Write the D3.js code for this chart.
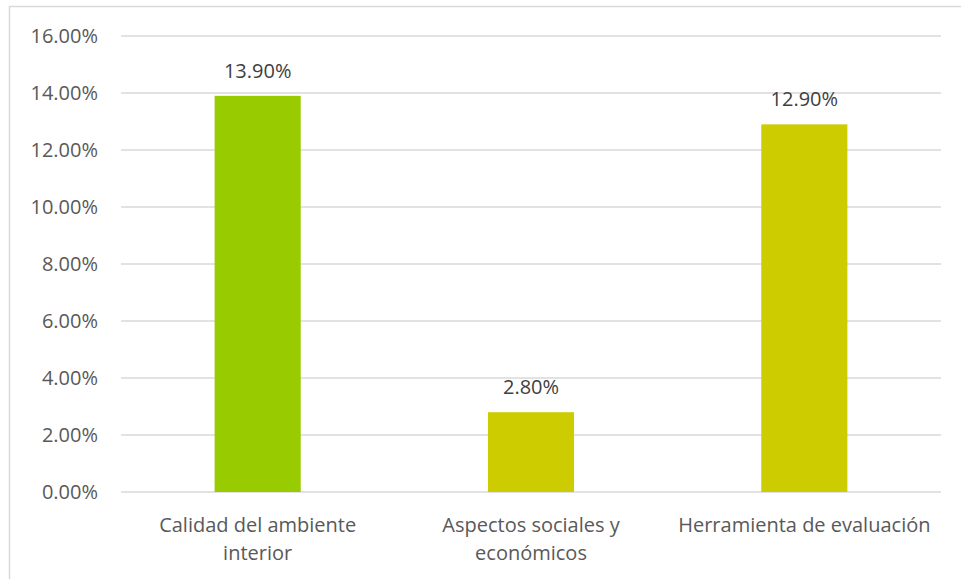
<!DOCTYPE html>
<html><head><meta charset="utf-8">
<script src="https://cdn.jsdelivr.net/npm/d3@7"></script>
<style>body{margin:0;background:#fff}svg{display:block}text{font-family:"Open Sans",sans-serif;}</style>
</head><body>
<script>
const categories = [["Calidad del ambiente","interior"],["Aspectos sociales y","económicos"],["Herramienta de evaluación"]];
const values = [13.9, 2.8, 12.9];
const colors = ["#99CC00","#CCCC00","#CCCC00"];
const ticks = [0,2,4,6,8,10,12,14,16];

const W=961,H=579;
const svg=d3.select("body").append("svg").attr("width",W).attr("height",H);
svg.append("rect").attr("x",9.5).attr("y",6.5).attr("width",W).attr("height",H).attr("fill","#fff").attr("stroke","#d9d9d9").attr("stroke-width",1.5);
const x=d3.scaleBand().domain(d3.range(3)).range([121,941]).paddingInner(0.685).paddingOuter(0.3425);
const y=d3.scaleLinear().domain([0,16]).range([492,36]);
svg.append("g").selectAll("line").data(ticks).join("line")
 .attr("x1",121).attr("x2",941).attr("y1",d=>y(d)).attr("y2",d=>y(d))
 .attr("stroke","#d9d9d9").attr("stroke-width",1.3);
svg.append("g").selectAll("text").data(ticks).join("text")
 .attr("x",98).attr("y",d=>y(d)+7).attr("text-anchor","end").attr("fill","#595959").attr("font-size",20)
 .text(d=>d.toFixed(2)+"%");
svg.append("g").selectAll("rect").data(values).join("rect")
 .attr("x",(d,i)=>x(i)).attr("width",x.bandwidth()).attr("y",d=>y(d)).attr("height",d=>y(0)-y(d)).attr("fill",(d,i)=>colors[i]);
svg.append("g").selectAll("text").data(values).join("text")
 .attr("x",(d,i)=>x(i)+x.bandwidth()/2).attr("y",d=>y(d)-18).attr("text-anchor","middle").attr("fill","#404040").attr("font-size",20)
 .text(d=>d.toFixed(2)+"%");
const cl=svg.append("g").selectAll("text").data(categories).join("text")
 .attr("text-anchor","middle").attr("fill","#595959").attr("font-size",20)
 .attr("transform",(d,i)=>`translate(${x(i)+x.bandwidth()/2},532)`);
cl.selectAll("tspan").data(d=>d).join("tspan").attr("x",0).attr("dy",(d,i)=>i?28:0).text(d=>d);
</script>
</body></html>
